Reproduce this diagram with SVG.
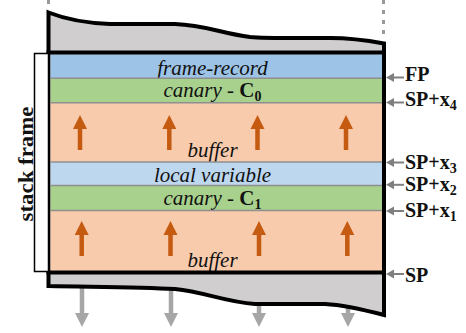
<svg xmlns="http://www.w3.org/2000/svg" width="466" height="333" viewBox="0 0 466 333">
<style>
.lbl{font-family:"Liberation Serif","Times New Roman",serif;font-size:21px;font-style:italic;fill:#111;text-anchor:middle}
.b{font-style:normal;font-weight:bold}
.rl{font-family:"Liberation Serif","Times New Roman",serif;font-size:20px;font-weight:bold;fill:#111}
.sub{font-size:14px}
.sep{stroke:#8f8f8f;stroke-width:1.5}
.up{fill:#c55a11}
.dn{fill:#a6a6a6}
.ptr{stroke:#7f7f7f;stroke-width:2;fill:none}
.ptrh{fill:#7f7f7f}
</style>
<defs>
<g id="uparrow"><polygon points="-7,14 7,14 0,0"/><rect x="-2.25" y="13" width="4.5" height="22"/></g>
<g id="dnarrow"><rect x="-2.25" y="0" width="4.5" height="34"/><polygon points="-7,33 7,33 0,47"/></g>
<g id="ptrarrow"><line x1="391" y1="0" x2="404" y2="0" class="ptr"/><polygon points="386,0 394,-4.5 394,4.5" class="ptrh"/></g>
</defs>

<g id="continuation">
<line x1="48.5" y1="0" x2="48.5" y2="6" stroke="#999" stroke-width="3" stroke-dasharray="4 6"/>
<line x1="383.5" y1="0" x2="383.5" y2="36" stroke="#999" stroke-width="3" stroke-dasharray="4 6"/>
<g class="dn">
<use href="#dnarrow" x="82" y="280"/>
<use href="#dnarrow" x="171" y="280"/>
<use href="#dnarrow" x="259" y="280"/>
<use href="#dnarrow" x="348" y="280"/>
</g>
</g>

<g id="stack">
<path d="M48.5,12.5 C65,19 85,23 110,24 L175,24 C205,25 220,33 250,37 C265,38.5 300,38 330,38 C350,38 365,40 384,43.5 L384,315 C365,310 345,305 325,304 L255,304 C225,302 205,292 175,289 C140,287 100,287 48.5,286 Z" fill="#d0cecf" stroke="#000" stroke-width="4" stroke-linejoin="miter"/>
</g>

<g id="frame-record"><rect x="50.5" y="54.5" width="331.5" height="23.8" fill="#9dc3e6"/>
<text class="lbl" x="212.5" y="75">frame-record</text></g>
<g id="canary0"><rect x="50.5" y="78.3" width="331.5" height="24.2" fill="#a9d18e"/>
<text class="lbl" x="212.5" y="97">canary - <tspan class="b">C</tspan><tspan class="b sub" dy="4">0</tspan></text></g>
<g id="buffer1"><rect x="50.5" y="102.5" width="331.5" height="59.5" fill="#f8cbad"/>
<text class="lbl" x="212.5" y="157">buffer</text>
<g class="up">
<use href="#uparrow" x="80" y="115"/>
<use href="#uparrow" x="169.3" y="115"/>
<use href="#uparrow" x="257.5" y="115"/>
<use href="#uparrow" x="346" y="115"/>
</g></g>
<g id="local-variable"><rect x="50.5" y="162" width="331.5" height="23.5" fill="#bdd7ee"/>
<text class="lbl" x="212.5" y="182">local variable</text></g>
<g id="canary1"><rect x="50.5" y="185.5" width="331.5" height="25" fill="#a9d18e"/>
<text class="lbl" x="212.5" y="205">canary - <tspan class="b">C</tspan><tspan class="b sub" dy="4">1</tspan></text></g>
<g id="buffer2"><rect x="50.5" y="210.5" width="331.5" height="60.5" fill="#f8cbad"/>
<text class="lbl" x="212.5" y="267">buffer</text>
<g class="up">
<use href="#uparrow" x="81.7" y="221"/>
<use href="#uparrow" x="170.5" y="221"/>
<use href="#uparrow" x="259" y="221"/>
<use href="#uparrow" x="347.3" y="221"/>
</g></g>

<g id="lines">
<line class="sep" x1="50.5" y1="78.3" x2="382" y2="78.3"/>
<line class="sep" x1="50.5" y1="102.7" x2="382" y2="102.7"/>
<line class="sep" x1="50.5" y1="162" x2="382" y2="162"/>
<line class="sep" x1="50.5" y1="185.6" x2="382" y2="185.6"/>
<line class="sep" x1="50.5" y1="210.4" x2="382" y2="210.4"/>
<line x1="46.5" y1="52.5" x2="386" y2="52.5" stroke="#000" stroke-width="4"/>
<line x1="46.5" y1="272.5" x2="386" y2="272.5" stroke="#000" stroke-width="4"/>
</g>

<g id="stack-frame">
<rect x="34.5" y="53.5" width="14" height="218" fill="#fff" stroke="#000" stroke-width="1.5"/>
<text transform="translate(33,164) rotate(-90)" text-anchor="middle" font-family="Liberation Serif, serif" font-size="22" font-weight="bold" fill="#111" textLength="115" lengthAdjust="spacingAndGlyphs">stack frame</text>
</g>

<g id="connectors">
<use href="#ptrarrow" y="77.5"/>
<use href="#ptrarrow" y="102.5"/>
<use href="#ptrarrow" y="162.5"/>
<use href="#ptrarrow" y="184.8"/>
<use href="#ptrarrow" y="211"/>
<use href="#ptrarrow" y="274"/>
</g>

<g id="labels">
<text class="rl" x="405" y="81">FP</text>
<text class="rl" x="405" y="105.5">SP+x<tspan class="sub" dy="4">4</tspan></text>
<text class="rl" x="405" y="169.3">SP+x<tspan class="sub" dy="4">3</tspan></text>
<text class="rl" x="405" y="191">SP+x<tspan class="sub" dy="4">2</tspan></text>
<text class="rl" x="405" y="217.3">SP+x<tspan class="sub" dy="4">1</tspan></text>
<text class="rl" x="405" y="281.5">SP</text>
</g>
</svg>
